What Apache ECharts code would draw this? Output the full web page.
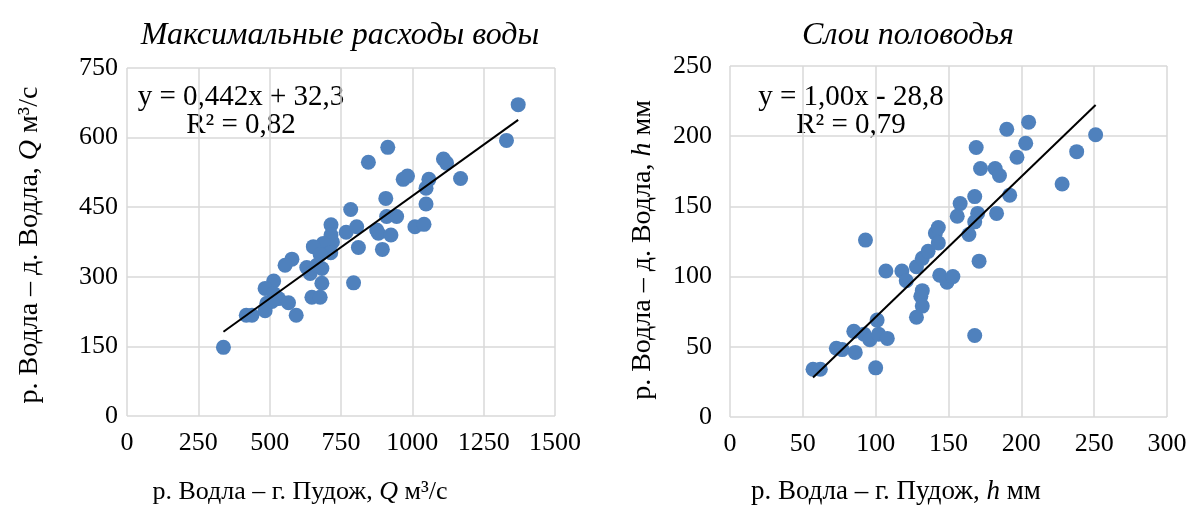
<!DOCTYPE html>
<html>
<head>
<meta charset="utf-8">
<script src="https://cdn.jsdelivr.net/npm/echarts@6/dist/echarts.min.js"></script>
<style>
  html, body { margin: 0; padding: 0; background: #ffffff; }
  #chart { width: 1192px; height: 506px; }
</style>
</head>
<body>
<div id="chart"></div>
<script>
// Максимальные расходы воды, м³/с: г. Пудож (x) против д. Водла (y)
const pudozhQ = [338, 1371, 1330, 914, 846, 1109, 1120, 1169, 968, 983, 1058, 1048, 907, 1048, 784,
  910, 945, 715, 768, 805, 875, 881, 1009, 1041, 925, 715, 720, 688, 653, 811, 895, 714, 677, 578,
  554, 630, 683, 642, 665, 514, 484, 794, 683, 514, 531, 566, 490, 648, 677, 484, 593, 418, 438, 508];
const vodlaQ = [148, 671, 594, 579, 547, 554, 545, 512, 510, 517, 510, 491, 469, 457, 445,
  430, 430, 412, 396, 408, 401, 394, 408, 413, 390, 390, 375, 372, 365, 363, 359, 352, 348, 338,
  325, 320, 318, 307, 325, 291, 275, 287, 286, 264, 253, 244, 243, 256, 256, 227, 217, 217, 217, 247];

// Слои половодья, мм
const pudozhH = [57, 62, 100, 73, 77, 86, 85, 92, 96, 101, 102, 108, 93, 107, 118, 121, 128, 132,
  136, 141, 143, 143, 132, 131, 132, 128, 144, 149, 153, 156, 158, 164, 168, 170, 168, 171, 168,
  169, 172, 182, 185, 183, 192, 197, 190, 203, 205, 228, 238, 251];
const vodlaH = [34, 34, 35, 49, 48, 46, 61, 59, 55, 69, 59, 56, 126, 104, 104, 97, 107, 113,
  118, 131, 135, 124, 90, 86, 79, 71, 101, 96, 100, 143, 152, 130, 139, 145, 157, 111, 58,
  192, 177, 177, 172, 145, 158, 185, 205, 195, 210, 166, 189, 201];

// Линейные тренды (коэффициенты из подписей)
const trendQ = { slope: 0.442, intercept: 32.3, eq: 'y = 0,442x + 32,3', r2: 'R² = 0,82' };
const trendH = { slope: 1.00, intercept: -28.8, eq: 'y = 1,00x - 28,8', r2: 'R² = 0,79' };

// Шкалы осей
const xTicksQ = { min: 0, max: 1500, interval: 250 };
const yTicksQ = { min: 0, max: 750, interval: 150 };
const xTicksH = { min: 0, max: 300, interval: 50 };
const yTicksH = { min: 0, max: 250, interval: 50 };

const titles = ['Максимальные расходы воды', 'Слои половодья'];
const axisTitles = {
  xQ: ['р. Водла – г. Пудож, ', 'Q', ' м³/с'],
  yQ: ['р. Водла – д. Водла, ', 'Q', ' м³/с'],
  xH: ['р. Водла – г. Пудож, ', 'h', ' мм'],
  yH: ['р. Водла – д. Водла, ', 'h', ' мм']
};

const FONT = '"Liberation Serif", "Times New Roman", serif';
const BLUE = '#4f81bd';
const GRID = '#d9d9d9';

function pairs(xs, ys) { return xs.map((x, i) => [x, ys[i]]); }
function trendLine(xs, t) {
  const lo = Math.min(...xs), hi = Math.max(...xs);
  return [[lo, t.slope * lo + t.intercept], [hi, t.slope * hi + t.intercept]];
}

function valueAxis(idx, ticks, margin) {
  return {
    type: 'value', gridIndex: idx,
    min: ticks.min, max: ticks.max, interval: ticks.interval,
    axisLine: { show: false }, axisTick: { show: false },
    splitLine: { show: true, lineStyle: { color: GRID, width: 1.5 } },
    axisLabel: { fontFamily: FONT, fontSize: 26, color: '#000', margin: margin,
      formatter: v => String(v) }
  };
}

// Подпись оси: обычный текст с курсивным обозначением величины
function axisTitle(parts, x, y, rotated, size) {
  return {
    type: 'text', x: x, y: y, rotation: rotated ? Math.PI / 2 : 0,
    style: {
      text: '{n|' + parts[0] + '}{i|' + parts[1] + '}{n|' + parts[2] + '}',
      align: 'center', verticalAlign: 'middle',
      rich: {
        n: { fontFamily: FONT, fontSize: size, fill: '#000' },
        i: { fontFamily: FONT, fontSize: size, fill: '#000', fontStyle: 'italic' }
      }
    }
  };
}

function eqText(cx, y, t) {
  return [
    { type: 'text', x: cx, y: y, style: { text: t.eq, font: '29px ' + FONT, fill: '#000', align: 'center', verticalAlign: 'middle' } },
    { type: 'text', x: cx, y: y + 28, style: { text: t.r2, font: '29px ' + FONT, fill: '#000', align: 'center', verticalAlign: 'middle' } }
  ];
}

const chart = echarts.init(document.getElementById('chart'), null, { renderer: 'canvas' });
chart.setOption({
  animation: false,
  backgroundColor: '#ffffff',
  title: [
    { text: titles[0], left: 335, top: 15, textAlign: 'center',
      textStyle: { fontFamily: FONT, fontSize: 32, fontStyle: 'italic', fontWeight: 'normal', color: '#000' } },
    { text: titles[1], left: 903, top: 15, textAlign: 'center',
      textStyle: { fontFamily: FONT, fontSize: 32, fontStyle: 'italic', fontWeight: 'normal', color: '#000' } }
  ],
  grid: [
    { left: 127, top: 68, width: 428, height: 348 },
    { left: 730, top: 66, width: 437, height: 351 }
  ],
  xAxis: [valueAxis(0, xTicksQ, 14), valueAxis(1, xTicksH, 14)],
  yAxis: [valueAxis(0, yTicksQ, 9), valueAxis(1, yTicksH, 18)],
  series: [
    { type: 'scatter', xAxisIndex: 0, yAxisIndex: 0, data: pairs(pudozhQ, vodlaQ),
      symbol: 'circle', symbolSize: 15, itemStyle: { color: BLUE, opacity: 1 }, z: 3 },
    { type: 'line', xAxisIndex: 0, yAxisIndex: 0, data: trendLine(pudozhQ, trendQ),
      symbol: 'none', lineStyle: { color: '#000', width: 2 }, z: 4 },
    { type: 'scatter', xAxisIndex: 1, yAxisIndex: 1, data: pairs(pudozhH, vodlaH),
      symbol: 'circle', symbolSize: 15, itemStyle: { color: BLUE, opacity: 1 }, z: 3 },
    { type: 'line', xAxisIndex: 1, yAxisIndex: 1, data: trendLine(pudozhH, trendH),
      symbol: 'none', lineStyle: { color: '#000', width: 2 }, z: 4 }
  ],
  graphic: eqText(241, 97, trendQ).concat(eqText(851, 97, trendH)).concat([
    axisTitle(axisTitles.xQ, 300, 492, false, 26),
    axisTitle(axisTitles.yQ, 30, 245, true, 28),
    axisTitle(axisTitles.xH, 896, 492, false, 27),
    axisTitle(axisTitles.yH, 643, 250, true, 28)
  ])
});
</script>
</body>
</html>
